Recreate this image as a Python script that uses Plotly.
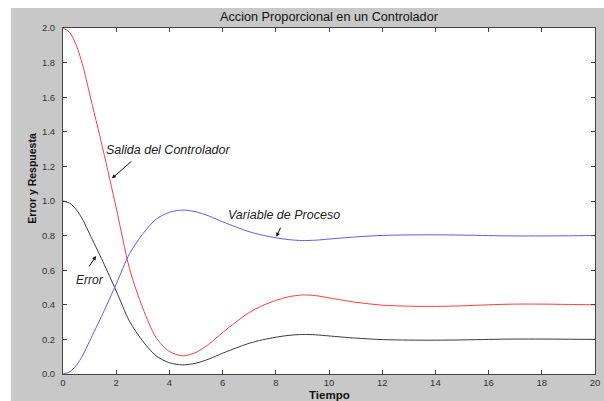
import plotly.graph_objects as go

# Data
tiempo = [0, 0.25, 0.5, 0.75, 1, 1.5, 2, 2.5, 3, 3.5, 4, 4.5, 5, 5.5, 6, 6.5, 7, 7.5, 8, 8.5, 9, 9.5, 10,
          11, 12, 13, 14, 15, 16, 17, 18, 19, 20]
salida_controlador = [2.0, 1.975, 1.90, 1.78, 1.62, 1.30, 0.96, 0.61, 0.38, 0.21, 0.13, 0.105, 0.125, 0.175, 0.24,
                      0.30, 0.355, 0.395, 0.425, 0.447, 0.457, 0.453, 0.44,
                      0.415, 0.398, 0.392, 0.391, 0.394, 0.40, 0.404, 0.404, 0.402, 0.40]
error = [1.0, 0.9875, 0.95, 0.89, 0.81, 0.65, 0.48, 0.305, 0.19, 0.105, 0.065, 0.0525, 0.0625, 0.0875, 0.12,
         0.15, 0.1775, 0.1975, 0.2125, 0.2235, 0.2285, 0.2265, 0.22,
         0.2075, 0.199, 0.196, 0.1955, 0.197, 0.2, 0.202, 0.202, 0.201, 0.2]
variable_proceso = [0.0, 0.0125, 0.05, 0.11, 0.19, 0.35, 0.52, 0.695, 0.81, 0.895, 0.935, 0.9475, 0.9375, 0.9125, 0.88,
                    0.85, 0.8225, 0.8025, 0.7875, 0.7765, 0.7715, 0.7735, 0.78,
                    0.7925, 0.801, 0.804, 0.8045, 0.803, 0.8, 0.798, 0.798, 0.799, 0.8]

x_ticks = [0, 2, 4, 6, 8, 10, 12, 14, 16, 18, 20]
y_ticks = [0.0, 0.2, 0.4, 0.6, 0.8, 1.0, 1.2, 1.4, 1.6, 1.8, 2.0]

FONT = "Liberation Sans, Arial, sans-serif"

fig = go.Figure()
fig.add_trace(go.Scatter(x=tiempo, y=salida_controlador, mode="lines",
                         line=dict(color="#ff3b3b", width=1, shape="spline", smoothing=0.8),
                         showlegend=False))
fig.add_trace(go.Scatter(x=tiempo, y=error, mode="lines",
                         line=dict(color="#3a3a3a", width=1, shape="spline", smoothing=0.8),
                         showlegend=False))
fig.add_trace(go.Scatter(x=tiempo, y=variable_proceso, mode="lines",
                         line=dict(color="#5a5aff", width=1, shape="spline", smoothing=0.8),
                         showlegend=False))

axis_common = dict(showgrid=False, zeroline=False, showline=True, linecolor="#444444",
                   linewidth=1, mirror="ticks", ticks="inside", ticklen=4, tickcolor="#444444",
                   tickfont=dict(family=FONT, size=9.5, color="#333333"))

fig.update_xaxes(range=[0, 20], tickvals=x_ticks, ticktext=[str(v) for v in x_ticks],
                 ticklabeloverflow="allow", **axis_common)
fig.update_yaxes(range=[0, 2.0], tickvals=y_ticks, ticktext=[f"{v:.1f}" for v in y_ticks],
                 ticklabelstandoff=5, **axis_common)

# White strips on top and left of the gray figure frame
fig.add_shape(type="rect", xref="paper", yref="paper", x0=-0.2, x1=1.1, y0=1.0578, y1=1.2,
              fillcolor="white", line=dict(width=0), layer="below")
fig.add_shape(type="rect", xref="paper", yref="paper", x0=-0.2, x1=-0.0981, y0=-0.2, y1=1.2,
              fillcolor="white", line=dict(width=0), layer="below")

annotations = [
    dict(text="Accion Proporcional en un Controlador", x=0.5, y=1.0318, xref="paper", yref="paper",
         showarrow=False, font=dict(family=FONT, size=12.7, color="#111111"), xanchor="center", yanchor="middle"),
    dict(text="<b>Tiempo</b>", x=0.5, y=-0.0607, xref="paper", yref="paper",
         showarrow=False, font=dict(family=FONT, size=11.5, color="#111111"), xanchor="center", yanchor="middle"),
    dict(text="<b>Error y Respuesta</b>", x=-0.0589, y=0.5665, xref="paper", yref="paper", textangle=-90,
         showarrow=False, font=dict(family=FONT, size=10.5, color="#111111"), xanchor="center", yanchor="middle"),
    dict(text="<i>Salida del Controlador</i>", x=3.96, y=1.295, showarrow=False,
         font=dict(family=FONT, size=12.5, color="#222222")),
    dict(text="<i>Variable de Proceso</i>", x=8.31, y=0.919, showarrow=False,
         font=dict(family=FONT, size=12.5, color="#222222")),
    dict(text="<i>Error</i>", x=1.02, y=0.543, showarrow=False,
         font=dict(family=FONT, size=12, color="#222222")),
    dict(text="", x=1.84, y=1.131, ax=2.63, ay=1.237, axref="x", ayref="y", showarrow=True,
         arrowhead=2, arrowsize=0.8, arrowwidth=1, arrowcolor="#111111", standoff=0),
    dict(text="", x=8.02, y=0.794, ax=8.21, ay=0.855, axref="x", ayref="y", showarrow=True,
         arrowhead=2, arrowsize=0.8, arrowwidth=1, arrowcolor="#111111", standoff=0),
    dict(text="", x=1.24, y=0.682, ax=0.95, ay=0.613, axref="x", ayref="y", showarrow=True,
         arrowhead=2, arrowsize=0.8, arrowwidth=1, arrowcolor="#111111", standoff=0),
]

fig.update_layout(
    width=604, height=401,
    margin=dict(l=63, r=4, t=28, b=27),
    paper_bgcolor="#c8c8c8", plot_bgcolor="white",
    annotations=annotations,
    font=dict(family=FONT),
)

fig.write_html("out.html", config={"displayModeBar": False},
               post_script="document.body.style.margin='0';document.body.style.overflow='hidden';")
